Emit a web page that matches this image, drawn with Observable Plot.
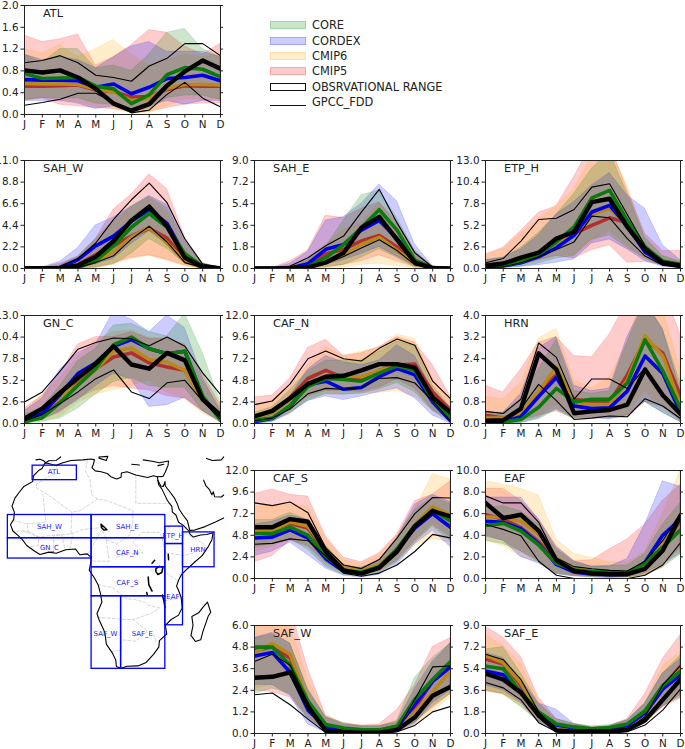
<!DOCTYPE html>
<html>
<head>
<meta charset="utf-8">
<script src="https://cdn.jsdelivr.net/npm/d3@7"></script>
<script src="https://cdn.jsdelivr.net/npm/@observablehq/plot@0.6"></script>
<style>
html,body{margin:0;padding:0;background:#fff;}
#page{position:relative;width:685px;height:749px;overflow:hidden;font-family:"DejaVu Sans",sans-serif;background:#fff;}
#page svg{position:absolute;background:transparent;}
.lg{position:absolute;left:270px;width:36px;height:8px;box-sizing:border-box;border-width:1px;border-style:solid;}
.lt{position:absolute;left:312px;font-size:11.4px;line-height:13px;color:#222;white-space:pre;}
</style>
</head>
<body>
<div id="page"></div>
<script>
const months = ["J","F","M","A","M","J","J","A","S","O","N","D"];

// each triple: [low, mean, high]; *_OBS mean is GPCC_FDD
const ATL_CORE = [[.27,.3,.3,.3,.2,.18,.05,.1,.3,.35,.35,.27],[.75,.66,.67,.68,.52,.47,.2,.36,.73,.86,.83,.69],[1.1,.95,1.2,1.2,.85,.9,.8,1.1,1.5,1.57,1.2,1.05]];
const ATL_CORDEX = [[.25,.25,.25,.2,.1,.15,.1,.15,.25,.18,.25,.25],[.64,.63,.63,.62,.5,.56,.38,.5,.66,.68,.72,.62],[1.1,1.0,1.05,1.0,.85,1.05,1.25,1.33,1.15,1.15,1.15,1.05]];
const ATL_CMIP6 = [[.28,.3,.28,.22,.15,.1,.02,.03,.15,.28,.27,.28],[.57,.56,.56,.55,.47,.42,.25,.3,.48,.55,.55,.54],[1.2,1.12,1.28,1.05,1.2,1.37,1.1,.9,1.0,1.1,1.05,1.1]];
const ATL_CMIP5 = [[.25,.3,.18,.15,.12,.1,.05,.05,.12,.18,.2,.2],[.52,.52,.53,.54,.45,.42,.32,.33,.46,.53,.52,.52],[1.45,1.33,1.38,1.47,.9,1.05,1.27,1.55,1.5,1.25,1.1,1.3]];
const ATL_OBS = [[.17,.22,.28,.39,.39,.22,.03,.08,.37,.59,.3,.14],[.81,.77,.81,.68,.47,.2,.07,.19,.53,.79,.99,.84],[.95,.99,1.08,.95,.72,.68,.61,.89,1.03,1.3,1.3,1.08]];

const SAH_W_CORE = [[0,0,0,0,.1,.4,1.5,3.0,2.0,.5,.05,0],[.02,.02,.03,.1,.8,2.3,4.2,5.6,4.2,1.5,.2,.05],[.05,.05,.3,1.2,3.0,4.9,6.3,7.3,6.2,2.8,.5,.1]];
const SAH_W_CORDEX = [[0,0,0,.1,.4,1,2.5,3.8,2.5,.6,.05,0],[.03,.03,.1,.9,2.3,3.3,4.8,6.0,4.6,1.3,.2,.05],[.05,.1,.7,2.1,4.4,5.2,6.3,7.4,6.5,2.8,.5,.1]];
const SAH_W_CMIP6 = [[0,0,0,0,.05,.4,1,1.3,.8,.2,0,0],[.02,.02,.05,.15,.7,1.7,3.2,4.2,2.6,.7,.1,.02],[.05,.05,.3,1.1,2.7,4.7,6.2,7.2,5.8,2.2,.4,.05]];
const SAH_W_CMIP5 = [[0,0,0,.02,.1,.5,1.1,1.35,.9,.3,.02,0],[.02,.02,.05,.4,1.4,2.3,3.3,4.1,3.1,.8,.1,.02],[.05,.1,.5,1.2,3,6.0,7.5,9.6,8.1,3.2,.5,.1]];
const SAH_W_OBS = [[0,0,0,.1,.6,1.3,3.0,4.3,2.7,.6,.1,0],[.03,.03,.05,.3,1.2,2.8,4.9,6.3,4.3,1.1,.15,.03],[.05,.05,.2,1.0,2.6,5.0,7.0,8.7,6.7,3.0,.45,.1]];

const SAH_E_CORE = [[0,0,0,0,.1,.3,.9,1.6,.9,.1,0,0],[0,0,0,.15,.9,2.0,3.4,4.9,3.2,.7,.05,0],[0,0,.1,.7,1.8,4.0,6.1,6.5,4.2,1.5,.1,0]];
const SAH_E_CORDEX = [[0,0,0,.05,.3,.7,1.2,1.8,1,.2,0,0],[0,0,.05,.4,1.6,2.0,3.2,4.0,2.5,.6,.05,0],[0,.02,.4,1.4,4,4.3,5.4,7,5.6,2,.2,0]];
const SAH_E_CMIP6 = [[0,0,0,0,.02,.1,.3,.4,.2,.05,0,0],[0,0,.02,.1,.5,1.1,2.0,2.6,1.5,.4,.02,0],[0,0,.2,.8,2,3.2,3.8,5.5,3.6,1.2,.1,0]];
const SAH_E_CMIP5 = [[0,0,0,.02,.1,.3,.6,1.1,.6,.1,0,0],[0,0,.03,.3,1.2,1.6,2.3,2.75,1.8,.5,.03,0],[.02,.05,.6,1.5,4.4,4.2,5.0,5.5,3.9,1.4,.2,.05]];
const SAH_E_OBS = [[0,0,0,.05,.4,1.0,1.7,2.4,1.5,.3,0,0],[0,0,.02,.1,.5,1.3,3.4,4.3,2.4,.5,.02,0],[0,0,.2,.9,1.9,2.7,4.7,6.6,3.8,1.3,.1,0]];

const ETP_H_CORE = [[0,.1,.2,.6,1.2,1.5,3.5,4.0,2.5,1.2,.3,.1],[.2,.35,.8,1.7,3.2,5.0,8.5,9.4,5.8,2.6,.9,.5],[1,1.3,2.5,4.3,6.5,9,12,14,9.0,3.8,1.5,.8]];
const ETP_H_CORDEX = [[0,.05,.2,.4,.7,1.1,3.0,3.5,2.3,.9,.2,.05],[.2,.3,.7,1.4,2.5,4.0,6.8,7.6,5.1,2.0,.6,.3],[1,1.3,2.3,4,6.5,8,10,11.5,8.8,7.2,2.8,1]];
const ETP_H_CMIP6 = [[.1,.2,.4,.9,1.5,1.6,3.2,4.5,2.8,1.2,.3,.1],[.3,.5,1.1,1.9,3.1,4.2,6.5,7.2,5.2,2.2,.7,.4],[1.6,2.3,4.2,6,7.5,9.5,13.5,14.5,10,3.5,1.5,.8]];
const ETP_H_CMIP5 = [[.2,.3,.5,1,1.5,1.2,2.2,2.8,.7,.8,.4,.2],[.4,.6,1.1,1.8,3.1,4.2,5.2,6.1,5.5,2.4,.8,.45],[1.7,2.5,4.5,6.7,7.5,11,15,15,9.5,4.2,2.1,2.1]];
const ETP_H_OBS = [[.1,.2,.7,1.4,2.3,3.2,6.3,6.1,3.6,1.5,.4,.1],[.35,.6,1.3,1.9,3.6,4.4,8.0,8.4,5.0,2.3,.7,.35],[.7,1.2,3.3,5.9,6.05,7.1,9.8,10.2,6.5,2.7,.7,.3]];

const GN_C_CORE = [[0,.2,.6,1.8,3.5,5.0,5.5,4.5,4.3,4.3,1.5,.1],[.2,.7,2.5,4.6,6.6,9.5,10.4,9,8.4,8.7,3.3,.4],[1,2,4.5,7.5,9,11.8,12,11,10.5,13.2,8.5,2.5]];
const GN_C_CORDEX = [[.2,.4,1.5,2.8,4.5,6,5.3,2,2.2,3.1,1.5,.2],[.4,1.2,3.5,6,7.3,9.3,10.1,9.0,8.4,8.7,3.2,.5],[1.5,3,6.5,8.5,9.5,13.5,12.5,11,13,11.5,5.5,1.5]];
const GN_C_CMIP6 = [[.1,.3,.8,2.5,3.5,4.0,4.5,5.2,3.7,3.0,1.2,.2],[.5,1.5,3.1,4.7,6.5,8.7,9.1,7.7,7.4,6.4,2.8,.9],[1.5,3.5,5.5,8,10,11,11.2,10.3,10.2,9.2,5,2]];
const GN_C_CMIP5 = [[.1,.5,1.3,3,4,4.5,4.2,4,3.3,3.0,1.5,.3],[.5,1.4,2.7,4.9,6.6,8.0,8.5,7.3,6.8,6.4,2.9,.9],[1.8,3.3,6,9.5,10.4,10.4,11,10.2,10.2,9.5,6,2.2]];
const GN_C_OBS = [[.3,1.1,2.4,3.8,5.4,6.45,3.8,3.0,4.9,5.2,2.7,.5],[.6,1.8,3.7,5.5,7.2,9.3,7.1,6.6,8.5,7.6,2.9,1.0],[2.6,3.8,6.3,8.95,9.75,10.3,10.2,9.35,10.4,9.3,6.1,3.5]];

const CAF_N_CORE = [[0,.2,1.2,2.5,3.3,3.2,3.3,3.8,4.5,3.5,1.4,.1],[.35,.6,2,4.1,5.0,4.9,4.7,5.6,6.4,5.9,2.6,.6],[1.2,1.8,3.7,5.8,7,7,7,8,9.1,8.6,4.2,1.8]];
const CAF_N_CORDEX = [[0,.15,1.1,2.5,3,2.6,3,3.5,3.9,2.8,.9,0],[.2,.55,1.9,4.3,4.7,3.8,4.0,5.2,6.1,5.4,2.4,.3],[.7,1.3,3,6,7.5,6.8,6.5,7,8.7,7.5,3.6,1.2]];
const CAF_N_CMIP6 = [[.15,.4,1,2.7,3.2,3.2,3.4,3.4,3.6,3,1.5,.2],[.7,1.2,2.7,4.5,5.3,5.3,5.2,5.9,6.4,6.1,2.9,.9],[2,2.5,4,6.5,8.5,7.5,8,8.4,9.9,9.4,5,2.5]];
const CAF_N_CMIP5 = [[.3,.6,1.6,3,3.6,3.6,3.5,4,4.9,3.9,1.5,.4],[.7,1.2,2.9,5.0,5.9,5.1,4.8,5.9,6.5,6.6,3.5,1.5],[2.9,3.1,5,8.4,9.3,7.5,7.8,8.5,9.6,9,6.5,3]];
const CAF_N_OBS = [[.3,.6,1.6,3.3,3.9,3.8,4.0,5.0,5.1,4.5,2.5,.3],[.8,1.4,2.8,4.4,5.2,5.3,5.9,6.6,6.6,6.2,2.9,1.2],[2.1,2.5,4.4,7.2,8.05,7.2,6.95,8.35,9.4,8.7,4.7,2.75]];

const HRN_CORE = [[0,0,.02,.15,.5,.15,.2,.2,.3,.8,.4,.05],[.02,.05,.15,.6,1.3,.8,.9,.9,1.5,3.1,1.95,.55],[.4,.4,.9,2,3.1,1.2,1.1,1.2,3,4.5,3.5,1.5]];
const HRN_CORDEX = [[0,0,.02,.2,.55,.2,.2,.15,.3,.8,.4,.05],[.05,.07,.25,1.0,1.7,.65,.55,.58,1.2,2.5,1.85,.4],[.4,.4,1.1,2.8,3.2,1.4,1.2,1.3,3.2,4.5,3.5,1.2]];
const HRN_CMIP6 = [[.02,.05,.1,.25,.7,.2,.2,.25,.3,1.2,.6,.15],[.2,.2,.4,1.2,2.1,.75,.7,.7,1.6,3.25,2.5,.7],[1,.9,1.5,3.15,3.5,1.6,1.3,1.7,3,5,4.2,2]];
const HRN_CMIP5 = [[.1,.05,.1,.3,.45,.2,.25,.2,.2,.8,.6,.1],[.3,.2,.4,1.15,1.8,.9,.8,.8,1.8,3.1,2.6,1.0],[1.4,1.15,2,3,3.2,2.5,2.45,3.3,4.5,5.5,5,3.3]];
const HRN_OBS = [[.02,.05,.55,1.45,.85,.15,.2,.28,.25,.92,.65,.18],[.1,.12,.55,2.6,2.0,.38,.45,.5,.7,2.0,1.05,.35],[.45,.37,.9,2.98,2.45,.9,1.65,1.65,1.3,2.05,1.1,.4]];

const CAF_S_CORE = [[3.5,3.8,4.4,3.2,1.3,.4,.3,.6,1.8,4,5.8,4.2],[5.0,5.0,5.7,4.8,2.5,.9,.7,1.3,3.3,5.9,7.6,6.4],[6.5,6.5,7.3,6.5,3.7,1.5,1.1,2,4.5,7.6,9,8.3]];
const CAF_S_CORDEX = [[2.5,3,4,2.6,1.1,.3,.1,.4,1.5,3.8,5.3,3.5],[4.5,4.6,5.4,4.5,2.2,.8,.6,1.2,3.2,5.6,7.2,5.7],[6,6.3,7,6.5,3.5,1.3,1.2,2,4.5,8.2,9.3,8.5]];
const CAF_S_CMIP6 = [[3,3.5,4.4,3.5,1.5,.6,.4,.7,1.8,3.6,4.4,4],[5.3,5.4,6.3,5.8,3.2,1.2,.9,1.5,3.2,6.0,8,7],[8,8,8.2,8,4.5,2,1.6,2.6,4.8,7.6,11.6,11]];
const CAF_S_CMIP5 = [[1.8,2.5,4.2,3.6,1.8,.6,.5,.8,2,4.2,6,4.6],[5.2,5.5,6.1,5.6,2.9,1.1,.8,1.4,3.0,5.9,7.7,6.8],[9.4,9.9,9.3,9.1,4.7,2.3,1.8,2.8,4.9,8.6,9.3,10.8]];
const CAF_S_OBS = [[3.8,3.9,4.4,4.2,2.5,.6,.25,.6,1.5,3,4.9,4.5],[5.7,5.7,6.6,6.3,3,.9,.55,1.2,3.0,5.8,7.5,6.9],[8.4,8.1,8.5,7.3,3.4,1.5,1.1,2.1,4.5,7.2,9,8.95]];

const EAF_CORE = [[3.5,3.2,2.5,1.5,.4,.2,.15,.1,.1,.3,1,2.2],[4.9,5.1,4.4,3.1,1.4,.8,.65,.6,.55,1.4,2.9,4.5],[6.5,6.7,6.2,5,2.7,1.5,1.1,1.2,1.2,2.3,5,7]];
const EAF_CORDEX = [[3.9,3.5,2,1.4,.4,.2,.1,.05,.1,.5,1.3,2.3],[5.3,5.2,4.6,3.2,1.3,.6,.4,.35,.4,1.5,4.0,5.5],[7.5,7.5,7.5,5.5,2.9,1.6,1.1,1.1,1.8,5,9,8.5]];
const EAF_CMIP6 = [[3.5,3,2,1.5,.5,.2,.1,.05,.1,.3,1,2.5],[5.7,5.7,5.3,4.1,1.9,.9,.7,.5,.5,1.2,3.1,5.6],[9,8.7,8.3,7.7,3.6,2.3,1.9,1.5,1.5,2.5,6,10]];
const EAF_CMIP5 = [[4,3.5,2.5,1.7,.5,.3,.2,.1,.1,.3,1.2,2.8],[5.9,5.5,4.7,3.4,1.6,.8,.6,.5,.5,1.1,2.8,5.4],[8.3,8.3,7.2,5.5,3,1.6,1.7,2.7,3.6,5,7.2,8.7]];
const EAF_OBS = [[5.0,4.55,3.95,1.6,.3,0,0,0,0,.3,1.25,3.3],[7.0,5.6,5.9,4.4,1.7,.7,.5,.4,.4,.9,2.6,5.8],[7.65,7.0,7.0,5.2,1.9,1.1,.9,.75,.7,1.6,3.5,6.1]];

const SAF_W_CORE = [[2.2,2.5,2.2,.8,.15,.1,.05,.05,.15,.6,1.5,2.2],[4.8,4.8,3.8,1.8,.5,.3,.2,.2,.4,1.9,3.0,4.0],[5.3,5.5,5,2.5,.9,.6,.4,.4,.7,3.1,4.2,5]];
const SAF_W_CORDEX = [[2.7,2.7,2.1,.5,.05,.03,.02,.02,.05,.5,1.7,2.4],[4.3,4.5,3.4,1.3,.35,.2,.15,.15,.35,1.6,2.9,3.7],[5.3,5.6,5,2.4,.9,.5,.4,.4,.6,2.5,4,5]];
const SAF_W_CMIP6 = [[2.5,2.7,2.2,.9,.1,.05,.05,.05,.1,.4,1.2,2],[4.5,5,4.4,1.8,.4,.25,.2,.2,.35,1.2,2.3,3.5],[6.4,6.5,6,3,1,.5,.4,.4,.7,2.3,3.8,5.1]];
const SAF_W_CMIP5 = [[2.4,2.3,2,.9,.15,.1,.05,.05,.1,.6,1.4,2.2],[4.6,4.8,4.2,1.7,.45,.25,.2,.2,.4,1.4,2.9,3.7],[6.5,6.5,7,3.6,1,.55,.45,.5,1.3,2.7,4.8,5.3]];
const SAF_W_OBS = [[2.15,2.25,1.6,.8,.05,0,0,0,.1,.45,1.2,1.5],[3.1,3.15,3.4,1.5,.15,.08,.05,.05,.2,.9,2.1,2.6],[4.0,4.4,3.8,1.7,.1,.05,.02,.02,.2,1.9,3.7,3.75]];

const SAF_E_CORE = [[3.6,3.3,2.2,1,.3,.2,.1,.15,.3,.9,2.3,3.0],[5.6,5.4,3.4,1.8,.8,.55,.4,.5,.8,1.9,4.0,5.2],[7,7.2,5,2.5,1.2,.8,.6,.7,1.1,2.5,5,6.5]];
const SAF_E_CORDEX = [[4,3.6,2.6,.9,.3,.2,.1,.1,.2,.9,2.2,3.2],[5.2,4.9,3.5,1.5,.7,.45,.3,.35,.65,1.7,3.7,4.9],[6.7,6.3,4.5,2.5,2,.8,.5,.6,1.1,2.5,5,6.2]];
const SAF_E_CMIP6 = [[3.6,3.2,2.3,1,.3,.2,.1,.1,.2,.8,2.2,3.2],[6.5,5.9,4.2,1.7,.6,.4,.3,.35,.6,1.6,3.9,5.5],[8.2,7.3,5.8,2.7,1,.7,.5,.6,1,2.5,5.6,6.8]];
const SAF_E_CMIP5 = [[3.5,3.3,2.5,1,.3,.2,.1,.1,.2,.8,2.2,2.9],[6.2,5.8,4.0,1.7,.6,.4,.3,.35,.6,1.6,3.9,5.6],[8.9,8,6.4,3,1.2,.8,.5,.6,1.2,3.3,6.2,8.2]];
const SAF_E_OBS = [[4.25,3.8,2.8,.9,.15,.02,.02,.02,.15,.7,1.95,3.7],[5,4.5,3.4,1.5,.25,.15,.2,.2,.3,1.1,2.8,4.5],[6.6,6.15,4.5,1.8,.35,.05,.05,.05,.3,1.4,4.05,5.65]];

// [name, y-axis top, column, row, CORE, CORDEX, CMIP6, CMIP5, OBS]
const panels = [
  ["ATL",2,0,0,ATL_CORE,ATL_CORDEX,ATL_CMIP6,ATL_CMIP5,ATL_OBS],
  ["SAH_W",11,0,1,SAH_W_CORE,SAH_W_CORDEX,SAH_W_CMIP6,SAH_W_CMIP5,SAH_W_OBS],
  ["SAH_E",9,1,1,SAH_E_CORE,SAH_E_CORDEX,SAH_E_CMIP6,SAH_E_CMIP5,SAH_E_OBS],
  ["ETP_H",13,2,1,ETP_H_CORE,ETP_H_CORDEX,ETP_H_CMIP6,ETP_H_CMIP5,ETP_H_OBS],
  ["GN_C",13,0,2,GN_C_CORE,GN_C_CORDEX,GN_C_CMIP6,GN_C_CMIP5,GN_C_OBS],
  ["CAF_N",12,1,2,CAF_N_CORE,CAF_N_CORDEX,CAF_N_CMIP6,CAF_N_CMIP5,CAF_N_OBS],
  ["HRN",4,2,2,HRN_CORE,HRN_CORDEX,HRN_CMIP6,HRN_CMIP5,HRN_OBS],
  ["CAF_S",12,1,3,CAF_S_CORE,CAF_S_CORDEX,CAF_S_CMIP6,CAF_S_CMIP5,CAF_S_OBS],
  ["EAF",10,2,3,EAF_CORE,EAF_CORDEX,EAF_CMIP6,EAF_CMIP5,EAF_OBS],
  ["SAF_W",6,1,4,SAF_W_CORE,SAF_W_CORDEX,SAF_W_CMIP6,SAF_W_CMIP5,SAF_W_OBS],
  ["SAF_E",9,2,4,SAF_E_CORE,SAF_E_CORDEX,SAF_E_CMIP6,SAF_E_CMIP5,SAF_E_OBS]
];

const bandColors = ["#008000","#0000ff","#ffa500","#ff0000"];
const meanColors = ["#0a7a0a","#0000e6","#b8891a","#b03030"];
const legendNames = ["CORE","CORDEX","CMIP6","CMIP5"];
const colLeft = [24,254,485];
const colWidth = [196,196,195];
const rowTop = [5,160,315,470,625];
const rowHeight = [109,108,108,108,108];

// map, in longitude / latitude
const africaCoast = [[-5.9,35.8],[-5.3,35.9],[-3,35.3],[-2,35.1],[0,35.9],[3,36.8],[7,37],[9.8,37.3],[11,37],[10.6,35.5],[10.1,34.3],[11.2,33.2],[13.2,32.9],[15.3,32.3],[16.5,31.2],[18.5,30.4],[20,31],[20.1,32.5],[22,32.9],[25,31.8],[29,30.9],[31,31.5],[32.3,31.2],[32.5,29.9],[32.7,28.5],[33.8,27],[35,24.5],[35.7,23],[37.2,21],[37.4,19],[38.6,18],[39.5,15.5],[41,14.5],[43.2,12.3],[43.3,11.5],[44.5,10.4],[47,11.1],[49,11.3],[51.2,11.9],[50.8,9.5],[49.5,7],[47.5,4],[45,1.8],[42,-1],[40.5,-2.5],[39.5,-4.5],[38.8,-6.5],[39.5,-8],[40.4,-10.5],[40.7,-14],[39.5,-16.5],[37,-18],[35,-20],[35.5,-23],[33,-25.3],[32.8,-27.5],[31,-30],[28.5,-32.8],[25.7,-34],[22,-34.1],[20,-34.8],[18.4,-34.2],[18.2,-32],[17,-29.5],[15,-26.5],[14.5,-22.5],[12.5,-18],[11.8,-16],[13.5,-12],[13,-9],[12.2,-6],[11,-3.8],[9.2,-1],[9.7,1.5],[9.8,3.5],[8.5,4.6],[6,4.3],[4.5,6.3],[1.2,6],[-2,4.8],[-4.5,5.2],[-7.5,4.4],[-9.3,5.5],[-12,7.5],[-13.5,9.5],[-15,11],[-16.7,12.5],[-17.5,14.7],[-16.4,16.5],[-16.2,19],[-17,21],[-16,23.8],[-14.8,25.5],[-13,27.8],[-10,29.5],[-9.7,31.5],[-8,33.3],[-6.8,34],[-5.9,35.8]];
const madagascar = [[49.3,-12],[50.4,-15.5],[49.5,-17],[47.8,-22],[47,-25],[45.2,-25.6],[43.7,-23.5],[44.4,-20],[44,-17],[46.3,-15.7],[48,-13.5],[49.3,-12]];
const arabiaCoast = [[32.3,31.2],[34.2,31.3],[35,32.8],[35.9,35],[36.1,36.6],[33,36],[30.5,36.5],[27.5,37]];
const sinaiCoast = [[32.5,29.9],[33.5,28],[34.3,27.8],[34.9,29.5],[35,28],[36.5,26],[38,24],[39,22],[39.7,20],[41,18],[42.5,16],[43.3,12.7],[45,12.8],[48.5,14],[52,15.6],[54.8,17]];
const persianGulf = [[48,30],[48.8,28],[50,26.7],[50.8,25],[51.3,26],[51.7,24.3],[54,24.2],[54.8,24.9]];
const caspian = [[49,37.5],[51,36.8],[54,37],[54.8,38]];
const iberia = [[-8.9,37],[-7.5,37.2],[-6.3,36.7],[-5.6,36],[-4.5,36.7],[-2,36.8],[-.5,38]];
const sicily = [[12.5,38],[15.5,38.2],[15,36.8],[12.5,37.6],[12.5,38]];
const crete = [[23.6,35.5],[26.2,35.2]];
const cyprus = [[32.5,35],[34.5,35.5]];
const lakeChad = [[13.2,14.8],[14.5,13.6],[15.2,12.9],[14.2,12.8],[13.4,13.6],[13.2,14.8]];
const lakeVictoria = [[31.8,-.5],[33,.3],[34.2,0],[33.8,-1.8],[32.5,-2.5],[31.8,-1.5],[31.8,-.5]];
const lakeTanganyika = [[29.2,-3.4],[29.4,-6],[30.5,-8.2]];
const lakeMalawi = [[34,-9.6],[34.5,-11.5],[34.9,-14]];
const lakeTurkana = [[36,4.5],[36.1,2.6]];
const lakeAlbert = [[30.5,1.4],[31.4,2.4]];
const lakeMweru = [[28.7,-8.7],[28.9,-9.5]];
const coastPieces = [africaCoast,madagascar,arabiaCoast,sinaiCoast,persianGulf,caspian,iberia,sicily,crete,cyprus];
const lakePieces = [lakeChad,lakeVictoria,lakeTanganyika,lakeMalawi,lakeTurkana,lakeAlbert,lakeMweru];
const borders = [
  [[-2,35],[-1.5,32.5],[-5,31],[-8.7,28.7],[-8.7,27.3],[-4.8,25],[3.3,19],[6,19.4],[12,23.5]],
  [[8.5,36.8],[8,33],[9.5,30],[10,25],[12,23.5],[15,23],[24,19.5],[24,15.5],[22.8,11]],
  [[25,31.6],[25,22],[36.8,22]],
  [[-12,15],[-5.5,15.5],[-6.5,25]],
  [[3,11.5],[7,13],[13.5,13.7]],
  [[15,9.5],[18.5,8],[22.8,11]],
  [[18.5,3.5],[22,4.5],[27.5,5],[24,8.5],[27,12],[33,12],[34,10],[35,5]],
  [[36.5,14.3],[34,10],[35,5],[41,4],[45,5],[48,8],[43,11]],
  [[34,-1],[39.2,-4.7]],
  [[30,-1],[34,-1]],
  [[12.2,-6],[17,-7],[22,-11],[24,-11],[28,-12],[29,-13],[33,-14],[30,-16],[24,-18]],
  [[12,-17.2],[21,-18],[24,-18],[29,-22],[25,-25.5],[20,-25]],
  [[20,-22],[20,-28.5],[17,-29]],
  [[31,-23],[32,-26]],
  [[35,-11.5],[40.4,-10.5]],
  [[2.7,6.3],[3.6,11.7]],
  [[-3,5],[-2.8,11],[-.1,11],[1,6]],
  [[-13.5,12.5],[-8,10.5],[-8,7.6],[-11,7]],
  [[8.8,4.6],[13.5,13],[15,9.5],[16,2],[9.8,2.2]],
  [[-16.5,16],[-12,15],[-11.5,12.4],[-16.7,12.5]],
  [[-11.5,12.4],[-8,10.5],[-3,11],[3,11.5],[3.3,19]]
];
// [name, west, east, south, north, label lon, label lat]
const regions = [
  ["ATL",-10,5,30,35,-2.8,32.8],
  ["SAH_W",-18.4,10,10,18,-4.3,14],
  ["SAH_E",10,35,10,18,22.1,14],
  ["ETP_H",35,41,8,14,37.6,10.9],
  ["GN_C",-18.4,10,3,10,-4.3,6.55],
  ["CAF_N",10,35,0,10,22.1,4.9],
  ["HRN",41,51.7,0,12,46.1,6.1],
  ["CAF_S",10,35,-10,0,22.1,-5.2],
  ["EAF",35,41,-20,8,37.6,-10.1],
  ["SAF_W",10,20,-35,-10,14.7,-23],
  ["SAF_E",20,35,-35,-10,27.2,-23]
];

const page = document.getElementById("page");

function place(svg, left, top) {
  svg.style.left = left + "px";
  svg.style.top = top + "px";
  page.appendChild(svg);
}

function drawPanel([name, yTop, col, row, ...series]) {
  const ml = col === 0 ? 24 : 30, mr = 5, mt = row === 0 ? 5 : 8, mb = 20;
  const w = colWidth[col], h = rowHeight[row];
  const yTicks = d3.range(6).map(i => yTop * i / 5);
  const idx = d3.range(12);
  const [core, cordex, cmip6, cmip5, obs] = series;
  const bandOrder = [[cmip5,3],[cmip6,2],[cordex,1],[core,0]];
  const plot = Plot.plot({
    width: ml + w + mr, height: mt + h + mb,
    marginLeft: ml, marginRight: mr, marginTop: mt, marginBottom: mb,
    x: {domain: [0, 11]},
    y: {domain: [0, yTop]},
    style: {fontFamily: "DejaVu Sans", fontSize: "10.4px", color: "#222", background: "transparent"},
    marks: [
      ...bandOrder.map(([s, c]) => Plot.areaY(idx, {
        x: i => i, y1: i => s[0][i], y2: i => s[2][i],
        fill: bandColors[c], fillOpacity: 0.2, stroke: bandColors[c], strokeOpacity: 0.15, clip: true
      })),
      ...bandOrder.map(([s, c]) => Plot.lineY(s[1], {
        x: (d, i) => i, y: d => d, stroke: meanColors[c], strokeWidth: 3.6, clip: true
      })),
      Plot.lineY(obs[0], {x: (d, i) => i, y: d => d, stroke: "#000", strokeWidth: 1.1, clip: true}),
      Plot.lineY(obs[2], {x: (d, i) => i, y: d => d, stroke: "#000", strokeWidth: 1.1, clip: true}),
      Plot.lineY(obs[1], {x: (d, i) => i, y: d => d, stroke: "#000", strokeWidth: 4.4, clip: true}),
      Plot.frame({stroke: "#222", strokeWidth: 1}),
      Plot.axisX({ticks: idx, tickFormat: i => months[i], label: null, tickSize: 3.5, tickPadding: 3}),
      Plot.axisY({ticks: yTicks, tickFormat: d => d.toFixed(1), label: null, tickSize: 3.5, tickPadding: 2.5}),
      Plot.ruleY(yTicks, {y: d => d, insetLeft: w, insetRight: -3, stroke: "#222", strokeWidth: 1}),
      Plot.text([name], {text: d => d, frameAnchor: "top-left", dx: 18.5, dy: 3, fontSize: 11.3, fill: "#222"})
    ]
  });
  place(plot, colLeft[col] - ml, rowTop[row] - mt);
}
panels.forEach(drawPanel);

// map panel
const mapPlot = Plot.plot({
  width: 240, height: 220, margin: 0,
  x: {domain: [-20.9, 60.5], axis: null},
  y: {domain: [-37.3, 38.5], axis: null},
  style: {fontFamily: "DejaVu Sans", background: "transparent"},
  marks: [
    ...borders.map(p => Plot.line(p, {x: d => d[0], y: d => d[1], stroke: "#c4c4c4", strokeWidth: .7, strokeDasharray: "3 2", clip: true})),
    ...coastPieces.map(p => Plot.line(p, {x: d => d[0], y: d => d[1], stroke: "#000", strokeWidth: 1.1, clip: true})),
    ...lakePieces.map(p => Plot.line(p, {x: d => d[0], y: d => d[1], stroke: "#000", strokeWidth: 1.5, clip: true})),
    Plot.rect(regions, {x1: d => d[1], x2: d => d[2], y1: d => d[3], y2: d => d[4], stroke: "#0000ff", strokeWidth: 1.3, fill: "none"}),
    Plot.text(regions, {x: d => d[5], y: d => d[6], text: d => d[0], fill: "#2020ff", fontSize: 7})
  ]
});
place(mapPlot, 0, 455);

// legend
const legendRows = [25,41,56,71,87,102];
legendNames.forEach((n, i) => {
  const s = document.createElement("div");
  s.className = "lg";
  s.style.top = (legendRows[i] - 4) + "px";
  s.style.background = bandColors[i] + "33";
  s.style.borderColor = bandColors[i] + "33";
  page.appendChild(s);
});
const obsSwatch = document.createElement("div");
obsSwatch.className = "lg";
obsSwatch.style.top = (legendRows[4] - 4) + "px";
obsSwatch.style.background = "#fff";
obsSwatch.style.borderColor = "#111";
page.appendChild(obsSwatch);
const gpccSwatch = document.createElement("div");
gpccSwatch.style.cssText = "position:absolute;left:270px;width:36px;height:1.2px;background:#111;top:" + (legendRows[5] + 3) + "px";
page.appendChild(gpccSwatch);
[...legendNames, "OBSRVATIONAL RANGE", "GPCC_FDD"].forEach((n, i) => {
  const t = document.createElement("div");
  t.className = "lt";
  t.textContent = n;
  t.style.top = (legendRows[i] - 6.5) + "px";
  page.appendChild(t);
});
</script>
</body>
</html>
